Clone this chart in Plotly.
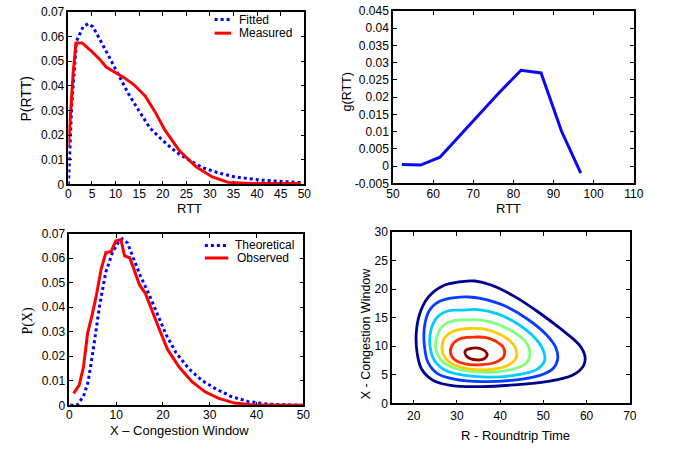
import plotly.graph_objects as go

W, H = 673, 453

# ---- RTT distribution (top left) ----
meas_rtt = [0, 1.0, 1.6, 2.9, 4.85, 6.6, 8.0, 10.0, 11.8, 13.9, 16.3, 18.4, 20.4, 23.5, 27.0, 30.5, 33.9, 38.8, 49.2]
meas_p = [0.015, 0.045, 0.0574, 0.0574, 0.0541, 0.0508, 0.0476, 0.0452, 0.0433, 0.0404, 0.0358, 0.0293, 0.0222, 0.0137, 0.0072, 0.0030, 0.0008, 0.0003, 0.0003]
fit_rtt = [0, 0.3, 0.7, 1.7, 3.1, 4.2, 5.2, 6.9, 8.7, 10.7, 12.8, 14.9, 17.3, 20.1, 22.9, 25.6, 28.4, 31.9, 35.3, 40.9, 45.7, 49.2]
fit_p = [0, 0.015, 0.032, 0.058, 0.0639, 0.0652, 0.0639, 0.058, 0.0515, 0.0437, 0.0365, 0.030, 0.0228, 0.0176, 0.0130, 0.0098, 0.0068, 0.0046, 0.0030, 0.0017, 0.0010, 0.0007]

# ---- g(RTT) (top right) ----
g_rtt = [52.2, 56.9, 61.7, 76.2, 81.9, 86.9, 92.0, 96.8]
g_val = [0.0005, 0.0003, 0.0026, 0.0210, 0.0278, 0.0270, 0.0101, -0.0020]
g_ticks = [-0.005, 0, 0.005, 0.01, 0.015, 0.02, 0.025, 0.03, 0.035, 0.04, 0.045]
g_ticktext = ["-0.005", "0", "0.005", "0.01", "0.015", "0.02", "0.025", "0.03", "0.035", "0.04", "0.045"]

# ---- Congestion window distribution (bottom left) ----
obs_x = [0.9, 2.1, 3.0, 3.9, 4.9, 5.8, 6.8, 7.8, 8.9, 9.9, 11.0, 11.8, 12.9, 13.9, 15.0, 16.2, 17.6, 19.3, 21.0, 23.5, 26.25, 29.0, 31.8, 35.3, 39.4, 50]
obs_p = [0.0049, 0.0082, 0.0155, 0.0295, 0.0372, 0.0452, 0.0557, 0.0623, 0.0627, 0.0670, 0.0676, 0.0610, 0.0602, 0.0552, 0.0491, 0.0458, 0.0386, 0.0306, 0.0227, 0.0155, 0.0095, 0.0055, 0.0029, 0.0009, 0.0001, 0]
theo_x = [0.2, 1.6, 3.0, 4.0, 5.1, 6.5, 7.8, 9.2, 10.6, 11.3, 12.4, 13.75, 15.1, 16.9, 18.6, 20.7, 22.8, 25.6, 28.3, 31.1, 34.6, 38.1, 42.2, 50]
theo_p = [0, 0, 0.0036, 0.0095, 0.0227, 0.0412, 0.0544, 0.0623, 0.0670, 0.0679, 0.0663, 0.0597, 0.0531, 0.0458, 0.0379, 0.0287, 0.0214, 0.0148, 0.0102, 0.0069, 0.0036, 0.0016, 0.0005, 0]

# ---- joint density contours (bottom right) ----
navy_r = [31.15, 26.6, 23.3, 21.4, 20.6, 20.8, 21.8, 24.4, 28.9, 35.7, 43.2, 50.7, 56.7, 59.3, 59.6, 58.2, 54.4, 48.4, 43.2, 37.9, 34.2]
navy_x = [21.3, 20.5, 18.5, 15.65, 12.26, 8.87, 6.05, 4.07, 3.11, 2.94, 3.22, 3.79, 4.9, 6.6, 8.3, 10.3, 12.8, 16.2, 18.76, 20.7, 21.4]
blue_r = [29.65, 25.9, 23.6, 22.5, 22.5, 23.3, 25.5, 29.65, 35.7, 43.2, 49.2, 52.2, 53.3, 52.9, 50.7, 46.2, 40.9, 35.7, 32.7]
blue_x = [18.5, 17.8, 16.2, 13.4, 10.0, 7.2, 5.2, 4.2, 3.8, 4.07, 4.9, 6.05, 7.7, 9.7, 12.0, 14.8, 17.1, 18.3, 18.6]
cyan_r = [31.15, 28.1, 25.5, 24.0, 23.8, 24.8, 27.4, 31.9, 37.9, 43.9, 48.4, 50.3, 49.9, 48.1, 43.9, 39.4, 34.9]
cyan_x = [16.3, 16.2, 15.1, 12.8, 10.0, 7.5, 5.76, 4.9, 4.6, 5.0, 5.9, 7.5, 9.4, 11.4, 13.96, 15.65, 16.4]
green_r = [32.7, 29.65, 27.0, 25.5, 25.1, 26.3, 28.9, 33.4, 38.7, 43.2, 46.2, 46.9, 45.8, 42.4, 37.9, 34.9]
green_x = [14.6, 14.5, 13.7, 12.0, 9.7, 7.63, 6.33, 5.6, 5.48, 6.05, 7.18, 8.87, 10.85, 12.8, 14.2, 14.6]
yellow_r = [33.4, 30.4, 27.8, 26.6, 27.0, 28.9, 32.7, 37.2, 41.3, 43.55, 43.8, 42.4, 39.4, 36.4]
yellow_x = [13.1, 12.9, 12.0, 10.3, 8.3, 6.9, 6.05, 5.9, 6.5, 7.74, 9.15, 10.85, 12.26, 13.0]
red_r = [34.2, 31.15, 29.3, 28.5, 29.3, 31.9, 35.7, 39.0, 40.9, 40.8, 39.0, 36.8]
red_x = [11.6, 11.4, 10.6, 9.15, 7.74, 6.9, 6.78, 7.2, 8.3, 9.7, 10.85, 11.5]
dred_r = [34.2, 31.9, 32.3, 34.5, 36.4, 37.0, 36.0]
dred_x = [9.7, 9.15, 8.2, 7.6, 7.85, 8.6, 9.4]

rings = [
    (navy_r, navy_x, "#00008F"),
    (blue_r, blue_x, "#0A3CFF"),
    (cyan_r, cyan_x, "#00CCFF"),
    (green_r, green_x, "#80FF80"),
    (yellow_r, yellow_x, "#FFCC00"),
    (red_r, red_x, "#FF2A00"),
    (dred_r, dred_x, "#8F0000"),
]


def px_x(v):
    return v / W


def px_y(v):
    return 1 - v / H


fig = go.Figure()

fig.add_trace(go.Scatter(x=fit_rtt, y=fit_p, mode="lines", xaxis="x", yaxis="y",
                         line=dict(color="#0000FF", width=3, dash="dot")))
fig.add_trace(go.Scatter(x=meas_rtt, y=meas_p, mode="lines", xaxis="x", yaxis="y",
                         line=dict(color="#FF0000", width=3)))

fig.add_trace(go.Scatter(x=g_rtt, y=g_val, mode="lines", xaxis="x2", yaxis="y2",
                         line=dict(color="#0A0AF0", width=3)))

fig.add_trace(go.Scatter(x=theo_x, y=theo_p, mode="lines", xaxis="x3", yaxis="y3",
                         line=dict(color="#0000FF", width=3, dash="dot")))
fig.add_trace(go.Scatter(x=obs_x, y=obs_p, mode="lines", xaxis="x3", yaxis="y3",
                         line=dict(color="#FF0000", width=3)))

for rr, xx, col in rings:
    fig.add_trace(go.Scatter(x=rr + rr[:1], y=xx + xx[:1], mode="lines",
                             xaxis="x4", yaxis="y4",
                             line=dict(color=col, width=2.8, shape="spline", smoothing=1.0)))

tick_font = dict(family="Liberation Sans, Arial, sans-serif", size=12, color="black")


def axis(domain, rng, anchor, **kw):
    d = dict(domain=domain, range=rng, anchor=anchor, showline=True, linecolor="black",
             linewidth=1.5, mirror="ticks", ticks="inside", ticklen=4, tickcolor="black",
             showgrid=False, zeroline=False, tickfont=tick_font, fixedrange=True)
    d.update(kw)
    return d


dom1x = [px_x(63), px_x(305)]
dom1y = [px_y(183), px_y(5)]
dom2x = [px_x(396), px_x(643)]
dom2y = [px_y(182), px_y(4)]
dom3x = [px_x(64), px_x(304)]
dom3y = [px_y(411), px_y(234)]
dom4x = [px_x(395), px_x(639)]
dom4y = [px_y(409), px_y(232)]

fig.update_layout(
    width=W, height=H, margin=dict(l=0, r=0, t=0, b=0),
    paper_bgcolor="white", plot_bgcolor="white", showlegend=False,
    xaxis=axis(dom1x, [0, 50], "y", dtick=5, ticklabelstandoff=-2),
    yaxis=axis(dom1y, [0, 0.07], "x", dtick=0.01),
    xaxis2=axis(dom2x, [50, 110], "y2", dtick=10, ticklabelstandoff=-2),
    yaxis2=axis(dom2y, [-0.005, 0.045], "x2", tickvals=g_ticks, ticktext=g_ticktext),
    xaxis3=axis(dom3x, [0, 50], "y3", dtick=10, ticklabelstandoff=-2),
    yaxis3=axis(dom3y, [0, 0.07], "x3", dtick=0.01),
    xaxis4=axis(dom4x, [15, 70], "y4", tickvals=[20, 30, 40, 50, 60, 70]),
    yaxis4=axis(dom4y, [0, 30], "x4", dtick=5),
)

sans = "Liberation Sans, Arial, sans-serif"
serif = "Liberation Serif, Times New Roman, serif"


def label(text, x, y, size=13, angle=0, family=sans, xanchor="center"):
    fig.add_annotation(text=text, x=px_x(x), y=px_y(y), xref="paper", yref="paper",
                       showarrow=False, textangle=angle, xanchor=xanchor, yanchor="middle",
                       font=dict(family=family, size=size, color="black"))


# axis titles
label("RTT", 187, 208)
label("P(RTT)", 20, 94, size=14, angle=-90)
label("RTT", 515, 208)
label("g(RTT)", 349, 88, size=12.5, angle=-90)
label("X \u2013 Congestion Window", 177, 437)
label("P(X)", 22, 323, size=14, angle=-90, family=serif)
label("R - Roundtrip Time", 522, 442)
label("X - Congestion Window", 368, 337, size=12.5, angle=-90)

# legends
def legend_entry(x0, x1, y, color, dash, text, tx):
    fig.add_shape(type="line", xref="paper", yref="paper",
                  x0=px_x(x0), x1=px_x(x1), y0=px_y(y), y1=px_y(y),
                  line=dict(color=color, width=3, dash=dash))
    label(text, tx, y, size=12, xanchor="left")


legend_entry(213, 230, 13, "#0000FF", "dot", "Fitted", 236)
legend_entry(213, 230, 27, "#FF0000", "solid", "Measured", 236)
legend_entry(203, 227, 246, "#0000FF", "dot", "Theoretical", 232)
legend_entry(203, 227, 259, "#FF0000", "solid", "Observed", 234)

fig.write_html("out.html")
